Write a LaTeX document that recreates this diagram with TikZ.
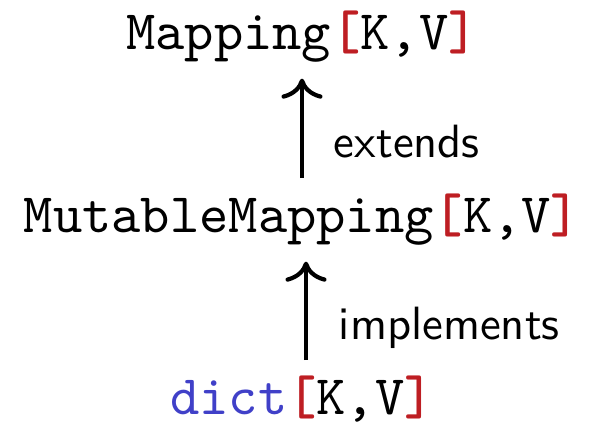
\documentclass[tikz,border=0pt]{standalone}
\usepackage{fontspec}
\newfontfamily\ttten{lmmono10-regular}[Extension=.otf, BoldFont=lmmonolt10-bold]
\usetikzlibrary{arrows.meta}
\definecolor{brk}{RGB}{190,30,35}
\definecolor{dictblue}{RGB}{64,64,200}
\newcommand{\brk}[1]{\textcolor{brk}{\textbf{#1}}}
\begin{document}
\begin{tikzpicture}[x=0.2143pt,y=-0.2143pt,
  cls/.style={inner sep=0pt, anchor=base, font=\fontsize{11.95}{14}\selectfont\ttten},
  lbl/.style={inner sep=0pt, anchor=base west, font=\fontsize{10}{12}\selectfont\sffamily},
  arr/.style={-{To[length=4.3pt,width=8.8pt]}, line width=0.9pt}]
\useasboundingbox (0,0) rectangle (589,427);
\node[cls] (map) at (302,50) {Mapping\brk{[}K,V\brk{]}};
\node[cls] (mm) at (302,233) {MutableMapping\brk{[}K,V\brk{]}};
\node[cls] (dict) at (302,415) {\textcolor{dictblue}{dict}\brk{[}K,V\brk{]}};
\draw[arr, shorten <=3.3pt, shorten >=3.2pt] (mm.north) -- (map.south);
\draw[arr, shorten <=3.3pt, shorten >=3.2pt] ([xshift=0.86pt]dict.north) -- ([xshift=0.86pt]mm.south);
\node[lbl] (ext) at (333,158) {extends};
\node[lbl] (impl) at (338,340) {implements};
\end{tikzpicture}
\end{document}
